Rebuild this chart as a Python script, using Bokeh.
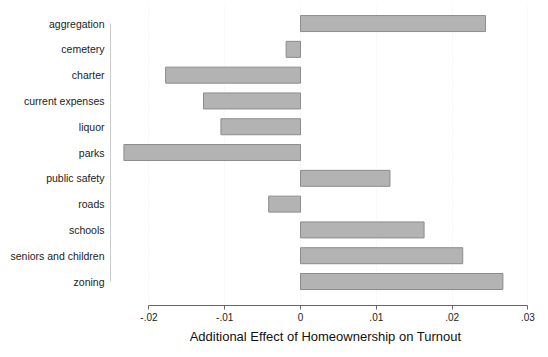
from bokeh.plotting import figure
from bokeh.models import Range1d, FixedTicker, ColumnDataSource
from bokeh.embed import file_html
from bokeh.resources import INLINE

categories = ["aggregation", "cemetery", "charter", "current expenses", "liquor",
              "parks", "public safety", "roads", "schools", "seniors and children", "zoning"]
effects = [0.0244, -0.0019, -0.0178, -0.0128, -0.0105, -0.0233,
           0.0118, -0.0042, 0.0163, 0.0214, 0.0267]
x_ticks = [-0.02, -0.01, 0.0, 0.01, 0.02, 0.03]
x_tick_labels = ["-.02", "-.01", "0", ".01", ".02", ".03"]

pos = list(range(len(categories)))
src = ColumnDataSource(dict(y=pos, left=[min(0, v) for v in effects],
                            right=[max(0, v) for v in effects]))

FONT = "Liberation Sans"
p = figure(width=548, height=357, output_backend="svg", toolbar_location=None,
           x_range=Range1d(-0.02507, 0.03166), y_range=Range1d(10.93, -0.7),
           min_border_left=110, min_border_right=8, min_border_top=5, min_border_bottom=52)
p.outline_line_color = None
p.background_fill_color = "white"
p.border_fill_color = "white"

p.hbar(y="y", left="left", right="right", height=0.62, source=src,
       fill_color="#b3b3b3", line_color="#8c8c8c", line_width=1)

# x axis
xa = p.xaxis[0]
xa.ticker = FixedTicker(ticks=x_ticks)
xa.major_label_overrides = {t: l for t, l in zip(x_ticks, x_tick_labels)}
xa.bounds = (-0.02, 0.03)
xa.axis_line_color = "#666666"
xa.major_tick_line_color = "#666666"
xa.major_tick_out = 4
xa.major_tick_in = 0
xa.minor_tick_line_color = None
xa.major_label_text_font = FONT
xa.major_label_text_font_size = "10px"
xa.major_label_text_color = "#222222"
xa.major_label_standoff = 3
xa.axis_label = "Additional Effect of Homeownership on Turnout"
xa.axis_label_text_font = FONT
xa.axis_label_text_font_size = "13px"
xa.axis_label_text_font_style = "normal"
xa.axis_label_text_color = "#111111"
xa.axis_label_standoff = 5

# y axis
ya = p.yaxis[0]
ya.ticker = FixedTicker(ticks=pos)
ya.major_label_overrides = {i: c for i, c in zip(pos, categories)}
ya.bounds = (0, len(categories) - 1)
ya.axis_line_color = "#cccccc"
ya.major_tick_line_color = None
ya.major_tick_out = 0
ya.major_tick_in = 0
ya.minor_tick_line_color = None
ya.major_label_text_font = FONT
ya.major_label_text_font_size = "10.5px"
ya.major_label_text_color = "#222222"
ya.major_label_standoff = 6

p.ygrid.grid_line_color = None
p.xgrid.grid_line_color = "#ececec"
p.xgrid.grid_line_dash = "1 2"
p.xgrid.grid_line_width = 1

open("out.html", "w").write(file_html(p, INLINE))
